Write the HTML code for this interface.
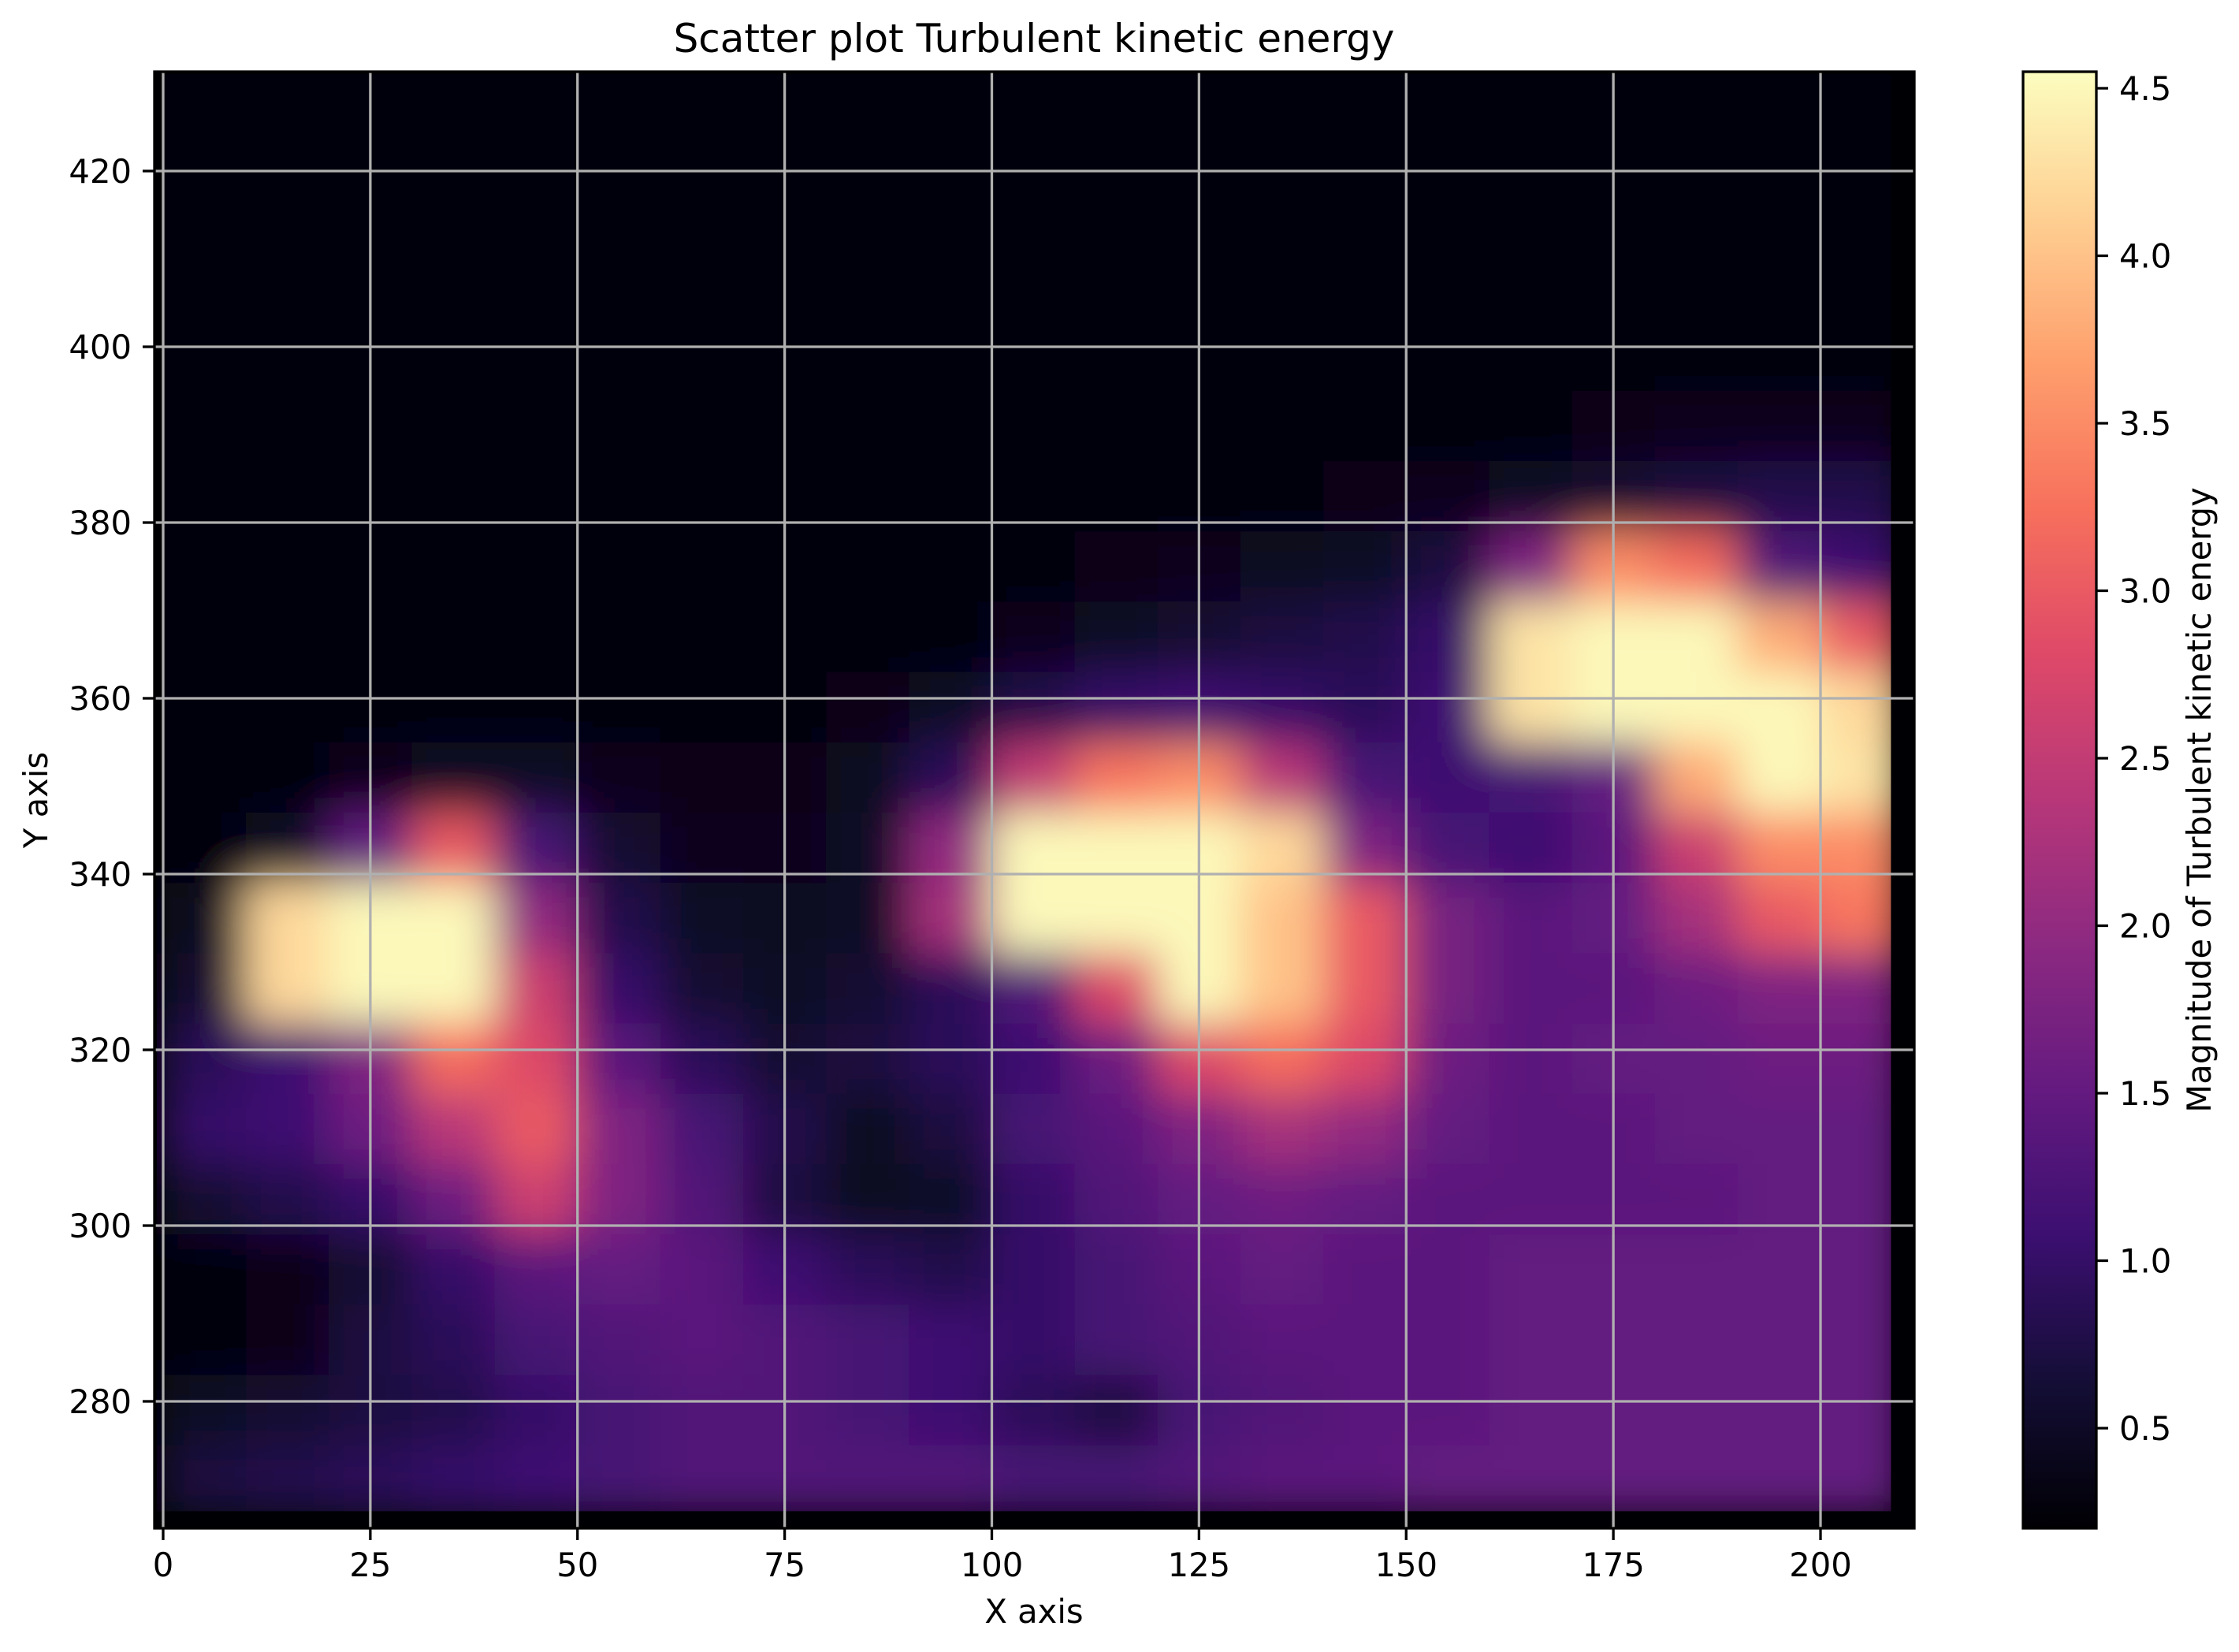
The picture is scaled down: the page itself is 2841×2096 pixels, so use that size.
<!DOCTYPE html>
<html><head><meta charset="utf-8">
<style>
html,body{margin:0;padding:0;background:#fff;}
svg{display:block;font-family:"DejaVu Sans","Liberation Sans",sans-serif;}
</style></head>
<body>
<svg id="chart" width="2841" height="2096" viewBox="0 0 2841 2096" xmlns="http://www.w3.org/2000/svg">
<defs>
  <clipPath id="plotclip"><rect x="196" y="91" width="2233" height="1848"/></clipPath>
  <clipPath id="dataclip"><rect id="dataclipRect" x="0" y="0" width="0" height="0"/></clipPath>
  <filter id="blur" x="-5%" y="-5%" width="110%" height="110%"><feGaussianBlur stdDeviation="28" edgeMode="duplicate"/></filter>
  <linearGradient id="cbgrad" x1="0" y1="1" x2="0" y2="0">
    <stop offset="0" stop-color="#000004"/><stop offset="0.1" stop-color="#140e36"/>
    <stop offset="0.2" stop-color="#3b0f70"/><stop offset="0.3" stop-color="#641a80"/>
    <stop offset="0.4" stop-color="#8c2981"/><stop offset="0.5" stop-color="#b73779"/>
    <stop offset="0.6" stop-color="#de4968"/><stop offset="0.7" stop-color="#f7705c"/>
    <stop offset="0.8" stop-color="#fe9f6d"/><stop offset="0.9" stop-color="#fecf92"/>
    <stop offset="1" stop-color="#fcfdbf"/>
  </linearGradient>
</defs>
<rect x="196" y="91" width="2233" height="1848" fill="#000004"/>
<g id="heat" clip-path="url(#dataclip)"><g id="cells" filter="url(#blur)"></g></g>
<g id="grid" clip-path="url(#plotclip)"></g>
<rect x="196" y="91" width="2233" height="1848" fill="none" stroke="#000" stroke-width="3.3"/>
<g id="axes"></g>
<text x="1312" y="66" font-size="50" text-anchor="middle">Scatter plot Turbulent kinetic energy</text>
<text x="1312" y="2059" font-size="41.7" text-anchor="middle">X axis</text>
<text x="0" y="0" font-size="41.7" text-anchor="middle" transform="translate(60,1015) rotate(-90)">Y axis</text>
<rect x="2567" y="91" width="93" height="1848" fill="url(#cbgrad)" stroke="#000" stroke-width="3.3"/>
<g id="cbaxis"></g>
<text x="0" y="0" font-size="41.7" text-anchor="middle" transform="translate(2805,1015) rotate(-90)">Magnitude of Turbulent kinetic energy</text>
</svg>
<script>
const xCenters = [5,15,25,35,45,55,65,75,85,95,105,115,125,135,145,155,165,175,185,195,205];
const yCenters = [431,423,415,407,399,391,383,375,367,359,351,343,335,327,319,311,303,295,287,279,271];
const tkeRows = [
 [0.3,0.3,0.3,0.3,0.3,0.3,0.3,0.3,0.3,0.3,0.3,0.3,0.3,0.3,0.3,0.3,0.3,0.3,0.3,0.3,0.3],
 [0.3,0.3,0.3,0.3,0.3,0.3,0.3,0.3,0.3,0.3,0.3,0.3,0.3,0.3,0.3,0.3,0.3,0.3,0.3,0.3,0.3],
 [0.3,0.3,0.3,0.3,0.3,0.3,0.3,0.3,0.3,0.3,0.3,0.3,0.3,0.3,0.3,0.3,0.3,0.3,0.3,0.3,0.3],
 [0.3,0.3,0.3,0.3,0.3,0.3,0.3,0.3,0.3,0.3,0.3,0.3,0.3,0.3,0.3,0.3,0.3,0.3,0.3,0.3,0.3],
 [0.3,0.3,0.3,0.3,0.3,0.3,0.3,0.3,0.3,0.3,0.3,0.3,0.3,0.3,0.3,0.3,0.3,0.3,0.3,0.3,0.3],
 [0.3,0.3,0.3,0.3,0.3,0.3,0.3,0.3,0.3,0.3,0.3,0.3,0.3,0.3,0.3,0.3,0.3,0.35,0.4,0.4,0.4],
 [0.3,0.3,0.3,0.3,0.3,0.3,0.3,0.3,0.3,0.3,0.3,0.3,0.3,0.3,0.35,0.4,0.5,0.6,0.7,0.8,0.8],
 [0.3,0.3,0.3,0.3,0.3,0.3,0.3,0.3,0.3,0.3,0.3,0.35,0.4,0.45,0.5,0.7,1.8,3.5,3.2,1.3,1.1],
 [0.3,0.3,0.3,0.3,0.3,0.3,0.3,0.3,0.3,0.3,0.4,0.5,0.6,0.7,0.8,1.0,4.3,4.5,4.5,3.8,3.0],
 [0.3,0.3,0.3,0.3,0.3,0.3,0.3,0.3,0.35,0.5,0.8,1.0,1.1,1.0,0.9,1.1,4.3,4.5,4.5,4.5,4.2],
 [0.3,0.3,0.4,0.5,0.5,0.4,0.35,0.35,0.45,0.9,2.5,3.3,3.5,2.4,1.2,1.1,1.2,1.5,3.8,4.5,4.3],
 [0.3,0.5,1.5,3.0,1.2,0.6,0.4,0.4,0.5,2.0,4.5,4.5,4.5,4.2,1.8,1.2,1.1,1.4,2.6,3.5,3.5],
 [0.45,4.2,4.5,4.5,2.0,0.8,0.5,0.45,0.5,2.2,4.5,4.5,4.5,4.0,3.0,1.7,1.4,1.5,2.2,3.0,3.3],
 [0.6,4.2,4.5,4.5,2.6,1.0,0.6,0.5,0.6,0.9,1.3,2.8,4.5,4.0,3.0,1.7,1.4,1.4,1.6,1.8,1.8],
 [0.9,1.1,1.8,3.2,2.8,1.4,0.9,0.6,0.7,0.9,1.1,1.6,2.8,3.2,2.8,1.6,1.4,1.5,1.5,1.6,1.6],
 [1.0,1.1,1.6,2.4,3.0,1.8,1.2,0.8,0.45,0.7,1.2,1.4,1.8,2.2,2.0,1.5,1.4,1.4,1.5,1.5,1.5],
 [0.6,0.8,1.0,1.6,2.6,1.8,1.3,0.7,0.45,0.5,1.0,1.3,1.5,1.6,1.5,1.4,1.4,1.4,1.4,1.5,1.5],
 [0.3,0.35,0.6,1.0,1.4,1.5,1.4,1.1,0.9,0.8,1.0,1.2,1.4,1.5,1.4,1.4,1.5,1.5,1.5,1.5,1.5],
 [0.3,0.35,0.7,0.9,1.2,1.3,1.4,1.3,1.2,1.1,1.0,1.2,1.3,1.4,1.4,1.4,1.5,1.5,1.5,1.5,1.5],
 [0.5,0.6,0.7,0.8,1.0,1.2,1.3,1.3,1.2,1.1,0.9,0.7,1.2,1.3,1.4,1.4,1.5,1.5,1.5,1.5,1.5],
 [0.7,0.8,0.9,1.0,1.1,1.2,1.3,1.3,1.3,1.3,1.2,1.2,1.3,1.4,1.4,1.5,1.5,1.5,1.5,1.5,1.5]
];
const xTicks = [0,25,50,75,100,125,150,175,200];
const yTicks = [280,300,320,340,360,380,400,420];
const cbTicks = [0.5,1.0,1.5,2.0,2.5,3.0,3.5,4.0,4.5];
const dataExtent = {xMin:0, xMax:208.5, yMin:267.5, yMax:431};
const cMin = 0.2, cMax = 4.55;

const NS = "http://www.w3.org/2000/svg";
function X(v){ return 207 + (v - 0) * 10.515; }
function Y(v){ return 1778 - (v - 280) * 11.15; }
function CB(v){ return 1812 - (v - 0.5) * 425; }
const magma = ["#000004","#140e36","#3b0f70","#641a80","#8c2981","#b73779","#de4968","#f7705c","#fe9f6d","#fecf92","#fcfdbf"];
function hex(h){ return [parseInt(h.slice(1,3),16),parseInt(h.slice(3,5),16),parseInt(h.slice(5,7),16)]; }
function color(v){
  let t = Math.max(0, Math.min(1, (v - cMin) / (cMax - cMin))) * 10;
  const i = Math.min(9, Math.floor(t)), f = t - i;
  const a = hex(magma[i]), b = hex(magma[i+1]);
  return "rgb(" + a.map((c,k)=>Math.round(c + (b[k]-c)*f)).join(",") + ")";
}
function mk(tag, attrs, parent){
  const e = document.createElementNS(NS, tag);
  for (const k in attrs) e.setAttribute(k, attrs[k]);
  parent.appendChild(e); return e;
}
const dc = document.getElementById("dataclipRect");
dc.setAttribute("x", X(dataExtent.xMin) - 8);
dc.setAttribute("y", Y(dataExtent.yMax));
dc.setAttribute("width", X(dataExtent.xMax) - X(dataExtent.xMin) + 8);
dc.setAttribute("height", Y(dataExtent.yMin) - Y(dataExtent.yMax));
const cells = document.getElementById("cells");
yCenters.forEach((yc, r) => {
  xCenters.forEach((xc, c) => {
    const rect = mk("rect", {x: X(xc - 5), y: Y(yc + 4), width: X(xc + 5) - X(xc - 5) + 1, height: Y(yc - 4) - Y(yc + 4) + 1, fill: color(tkeRows[r][c])}, cells);
    
    
  });
});
const grid = document.getElementById("grid"), axes = document.getElementById("axes");
xTicks.forEach(v => {
  const g = mk("line", {x1: X(v), x2: X(v), y1: 91, y2: 1939, stroke: "#b0b0b0", "stroke-width": 3.3}, grid);
  
  
  const t = mk("line", {x1: X(v), x2: X(v), y1: 1939, y2: 1954, stroke: "#000", "stroke-width": 3.3}, axes);
  
  
  const l = mk("text", {x: X(v), y: 2000, "font-size": 41.7, "text-anchor": "middle"}, axes);
  l.textContent = v;
  
  
});
yTicks.forEach(v => {
  const g = mk("line", {x1: 196, x2: 2429, y1: Y(v), y2: Y(v), stroke: "#b0b0b0", "stroke-width": 3.3}, grid);
  
  
  const t = mk("line", {x1: 181, x2: 196, y1: Y(v), y2: Y(v), stroke: "#000", "stroke-width": 3.3}, axes);
  
  
  const l = mk("text", {x: 167, y: Y(v) + 15, "font-size": 41.7, "text-anchor": "end"}, axes);
  l.textContent = v;
  
  
});
const cba = document.getElementById("cbaxis");
cbTicks.forEach(v => {
  const t = mk("line", {x1: 2660, x2: 2675, y1: CB(v), y2: CB(v), stroke: "#000", "stroke-width": 3.3}, cba);
  
  
  const l = mk("text", {x: 2689, y: CB(v) + 15, "font-size": 41.7}, cba);
  l.textContent = v.toFixed(1);
  
  
});
</script>
</body></html>
